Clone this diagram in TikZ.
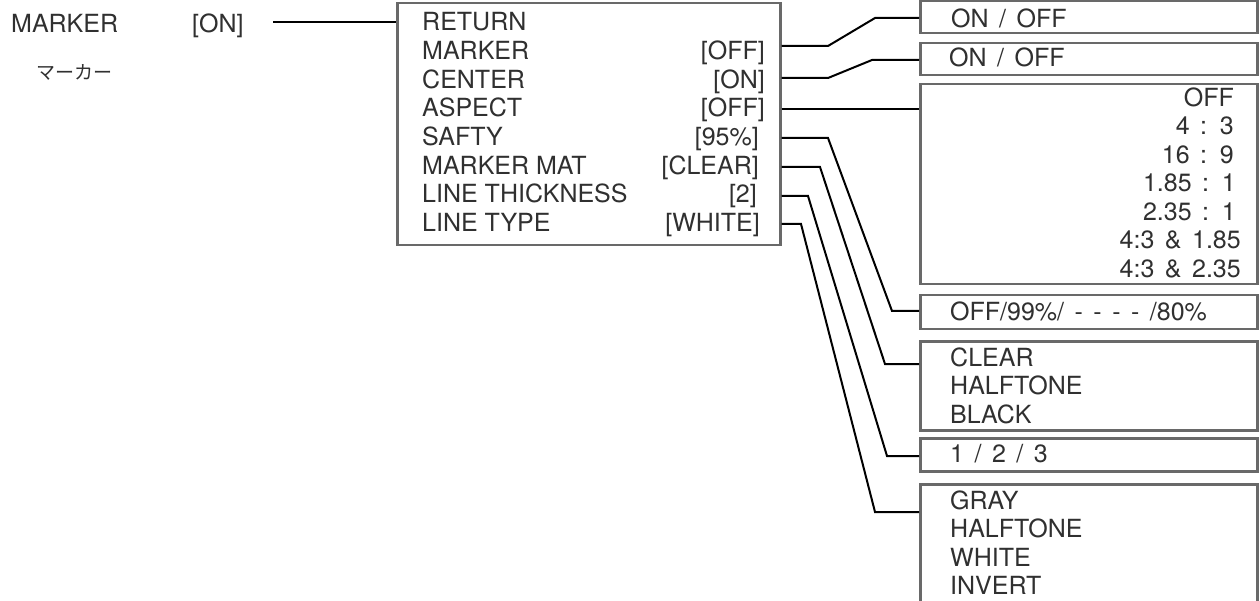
\documentclass[tikz,border=0pt]{standalone}
\usepackage{fontspec}
\setmainfont{TeX Gyre Heros}
\newfontfamily\jpfont{Noto Sans CJK JP}
\usetikzlibrary{calc}
\definecolor{boxgray}{RGB}{105,105,105}
\definecolor{txtc}{RGB}{48,48,48}
\begin{document}
\begin{tikzpicture}[x=1pt,y=-1pt,
  txt/.style={inner sep=0pt, text=txtc, font=\fontsize{25}{28}\selectfont},
  lt/.style={txt, anchor=base west},
  rt/.style={txt, anchor=base east},
  widesp/.style={execute at begin node={\spaceskip=0.42em\relax}},
  frame/.style={draw=boxgray, line width=2.5pt, inner sep=0pt, anchor=north west, fill=white},
  conn/.style={line width=2pt, black}]
\useasboundingbox (0,0) rectangle (1260,601);
\begin{scope}
\clip (0,0) rectangle (1260,601);
% left labels
\node[lt] (lmarker) at (11,33) {MARKER};
\node[lt] (lon) at (192,33) {[ON]};
\node[txt, anchor=base west, font=\jpfont\fontsize{19}{22}\selectfont] (ljp) at (36,80) {マーカー};
% main box
\node[frame, minimum width=383, minimum height=242] (main) at (396,2) {};
\draw[conn] (273,22) -- (main.west |- 0,22);
% main texts
\node[lt] (t0) at (422,31) {RETURN};
\node[lt] (t1) at (422,60) {MARKER};
\node[lt] (t2) at (422,88.5) {CENTER};
\node[lt] (t3) at (422,117) {ASPECT};
\node[lt] (t4) at (422,146) {SAFTY};
\node[lt] (t5) at (422,174.5) {MARKER MAT};
\node[lt] (t6) at (422,203) {LINE THICKNESS};
\node[lt] (t7) at (422,232) {LINE TYPE};
\node[rt] (v1) at (765,60) {[OFF]};
\node[rt] (v2) at (765,88.5) {[ON]};
\node[rt] (v3) at (765,117) {[OFF]};
\node[rt] (v4) at (759,146) {[95\%]};
\node[rt] (v5) at (759,174.5) {[CLEAR]};
\node[rt] (v6) at (757,203) {[2]};
\node[rt] (v7) at (760,232) {[WHITE]};
% right boxes
\node[frame, minimum width=337, minimum height=32] (b1) at (919,0) {};
\node[frame, minimum width=337, minimum height=32] (b2) at (919,42) {};
\node[frame, minimum width=337, minimum height=200] (b3) at (919,83) {};
\node[frame, minimum width=337, minimum height=34] (b4) at (919,294) {};
\node[frame, minimum width=337, minimum height=89] (b5) at (919,340) {};
\node[frame, minimum width=337, minimum height=33] (b6) at (919,437) {};
\node[frame, minimum width=337, minimum height=140] (b7) at (919,483) {};
% box texts
\node[lt, widesp] (o1) at (951,27.5) {ON / OFF};
\node[lt, widesp] (o2) at (949,66.5) {ON / OFF};
\node[rt] (a1) at (1234,107) {OFF};
\node[rt, widesp] (a2) at (1234,135) {4 : 3};
\node[rt, widesp] (a3) at (1234,163.5) {16 : 9};
\node[rt, widesp] (a4) at (1236,192) {1.85 : 1};
\node[rt, widesp] (a5) at (1236,220.5) {2.35 : 1};
\node[rt, widesp] (a6) at (1241,249) {4:3 \& 1.85};
\node[rt, widesp] (a7) at (1241,277.5) {4:3 \& 2.35};
\node[lt, widesp] (s1) at (950,320) {OFF/99\%/ - - - - /80\%};
\node[lt] (c1) at (950,366) {CLEAR};
\node[lt] (c2) at (950,394.5) {HALFTONE};
\node[lt] (c3) at (950,423) {BLACK};
\node[lt, widesp] (k1) at (950,462) {1 / 2 / 3};
\node[lt] (g1) at (950,509) {GRAY};
\node[lt] (g2) at (950,537.5) {HALFTONE};
\node[lt] (g3) at (950,566) {WHITE};
\node[lt] (g4) at (950,594.5) {INVERT};
% connectors
\draw[conn] (main.east |- 0,46) -- (828,46) -- (875,18) -- (b1.west |- 0,18);
\draw[conn] (main.east |- 0,78) -- (828,78) -- (872,60) -- (b2.west |- 0,60);
\draw[conn] (main.east |- 0,109) -- (b3.west |- 0,109);
\draw[conn] (main.east |- 0,138) -- (828,138) -- (892,311) -- (b4.west |- 0,311);
\draw[conn] (main.east |- 0,167) -- (820,167) -- (885,364) -- (b5.west |- 0,364);
\draw[conn] (main.east |- 0,196) -- (808,196) -- (887,456) -- (b6.west |- 0,456);
\draw[conn] (main.east |- 0,224) -- (801,224) -- (875,512) -- (b7.west |- 0,512);
\end{scope}
\end{tikzpicture}
\end{document}
